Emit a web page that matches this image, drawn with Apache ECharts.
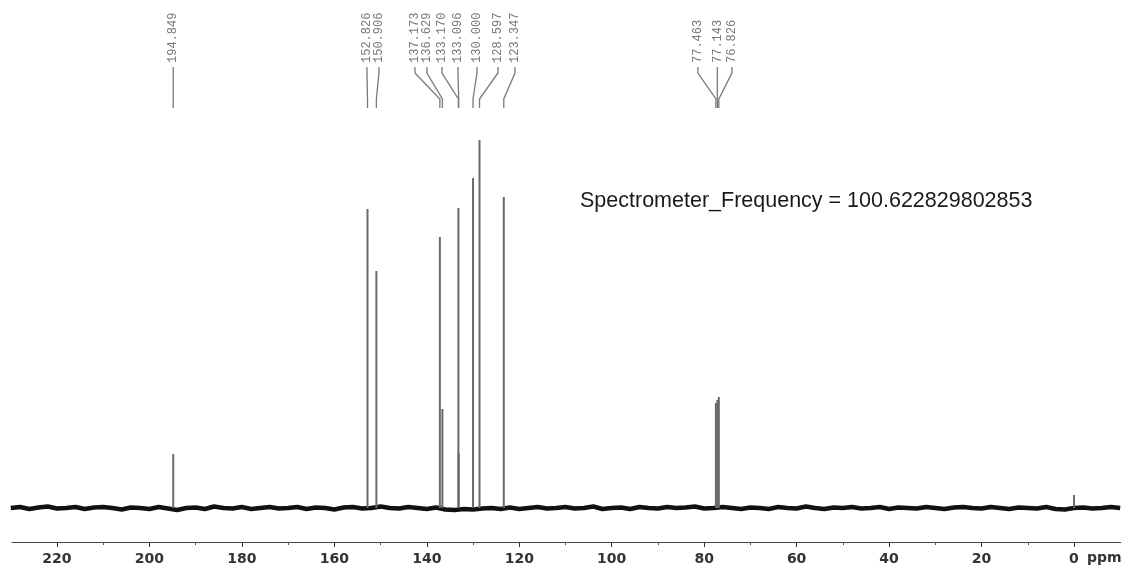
<!DOCTYPE html>
<html><head><meta charset="utf-8">
<script src="https://cdn.jsdelivr.net/npm/echarts@6/dist/echarts.min.js"></script>
<style>html,body{margin:0;padding:0;background:#fff}#c{width:1121px;height:568px}</style>
</head><body><div id="c"></div>
<script>
// ---- data ----
const peakPpm    = [194.849, 152.826, 150.906, 137.173, 136.629, 133.170, 133.096, 130.000, 128.597, 123.347, 77.463, 77.143, 76.826];
const peakHeight = [54, 299, 237, 271, 99, 300, 55, 330, 368, 311, 105, 108, 111];
const peakLabels = ['194.849','152.826','150.906','137.173','136.629','133.170','133.096','130.000','128.597','123.347','77.463','77.143','76.826'];
const labelAnchorPpm = [194.85, 152.94, 150.35, 142.56, 139.97, 136.72, 133.26, 129.15, 124.61, 120.93, 81.35, 77.14, 74.0];
const refPeakPpm = [0.0];
const refPeakHeight = [13];
// baseline noise, every 2 ppm from 230 down to -10 (estimated)
const baselineStart = 230, baselineStep = -2;
const baselineValue = [
  0,1,-1,0.5,1.5,-0.5,0,1,-1,0.5,
  1,0,-1.5,0.5,0,-1,1,-0.5,-2,0,
  0.5,-1,1.5,0,-0.5,1,-1,0,1,-0.5,
  0,1,-1,0.5,0,-1.5,0.5,1,-0.5,0,
  1.5,0,-0.5,1,0,-1,0.5,-1.5,-2,-1,
  -1.5,-0.5,0,-1,0.5,-1,0,1,-0.5,0,
  1,-0.5,0,1.5,-1,0,0.5,-1,1,0,
  -0.5,1,0,0.5,1.5,-0.5,0,1,0,-1,
  0.5,0,-1,1,0,-0.5,1.5,0,-1,0.5,
  0,1,-0.5,0,1,-1,0.5,0,-0.5,1,
  0,-1,0.5,1,0,-0.5,1,0,-1,0.5,
  0,-0.5,1,-1,-1.5,0,0.5,-0.5,0,1,
  0];
const majorTicks = [220,200,180,160,140,120,100,80,60,40,20,0];
const minorTicks = [210,190,170,150,130,110,90,70,50,30,10];
const unitLabel = 'ppm';
const annotation = 'Spectrometer_Frequency = 100.622829802853';

// ---- chart ----
const xMin = -10.17, xMax = 229.73;
const chart = echarts.init(document.getElementById('c'), null, {renderer:'canvas'});
const peakData = peakPpm.map((p,i)=>[p, peakHeight[i], labelAnchorPpm[i], i]);
const refData = refPeakPpm.map((p,i)=>[p, refPeakHeight[i], null, -1]);
const baseData = baselineValue.map((v,i)=>[baselineStart + i*baselineStep, v]);

function renderPeak(params, api){
  const ppm = api.value(0), h = api.value(1), idx = api.value(3);
  const b = api.coord([ppm, 0]), t = api.coord([ppm, h]);
  const children = [{type:'line', shape:{x1:b[0], y1:b[1], x2:t[0], y2:t[1]}, style:{stroke:'#6a6a6a', lineWidth:2}}];
  if (idx >= 0) {
    const lx = api.coord([api.value(2), 0])[0];
    children.push({type:'polyline', shape:{points:[[lx,67],[lx,73],[b[0],99],[b[0],108]]}, style:{stroke:'#7a7a7a', lineWidth:1.3, fill:null}});
    children.push({type:'text', x:lx, y:63, rotation:Math.PI/2,
      style:{text: peakLabels[idx], font:'12px "Liberation Mono"', fill:'#777', align:'left', verticalAlign:'middle'}});
  }
  return {type:'group', children};
}

chart.setOption({
  animation:false,
  backgroundColor:'#fff',
  grid:{left:12, right:0, top:100, bottom:26},
  xAxis:[{
    type:'value', min:xMin, max:xMax, inverse:true,
    axisLine:{show:true, onZero:false, lineStyle:{color:'#444', width:1}},
    axisTick:{show:true, customValues:majorTicks, length:5, lineStyle:{color:'#333'}},
    axisLabel:{customValues:majorTicks, margin:10, fontFamily:'DejaVu Sans', fontWeight:'bold', fontSize:14, color:'#333'},
    splitLine:{show:false}
  },{
    type:'value', min:xMin, max:xMax, inverse:true, position:'bottom', offset:0,
    axisLine:{show:false, onZero:false},
    axisTick:{show:true, customValues:minorTicks, length:3, lineStyle:{color:'#555'}},
    axisLabel:{show:false},
    splitLine:{show:false}
  }],
  yAxis:{type:'value', min:-34, max:408, show:false},
  series:[
    {type:'line', data:baseData, showSymbol:false, lineStyle:{color:'#111', width:4.5}, z:2},
    {type:'custom', data:peakData, renderItem:renderPeak, clip:false, z:3, encode:{x:0,y:1}},
    {type:'custom', data:refData, renderItem:renderPeak, clip:false, z:3, encode:{x:0,y:1}}
  ],
  graphic:[
    {type:'text', left:580, top:190, style:{text:annotation, font:'21.5px "Liberation Sans"', fill:'#1a1a1a'}},
    {type:'text', left:1087, top:551, style:{text:unitLabel, font:'bold 14px "DejaVu Sans"', fill:'#333'}}
  ]
});
</script></body></html>
